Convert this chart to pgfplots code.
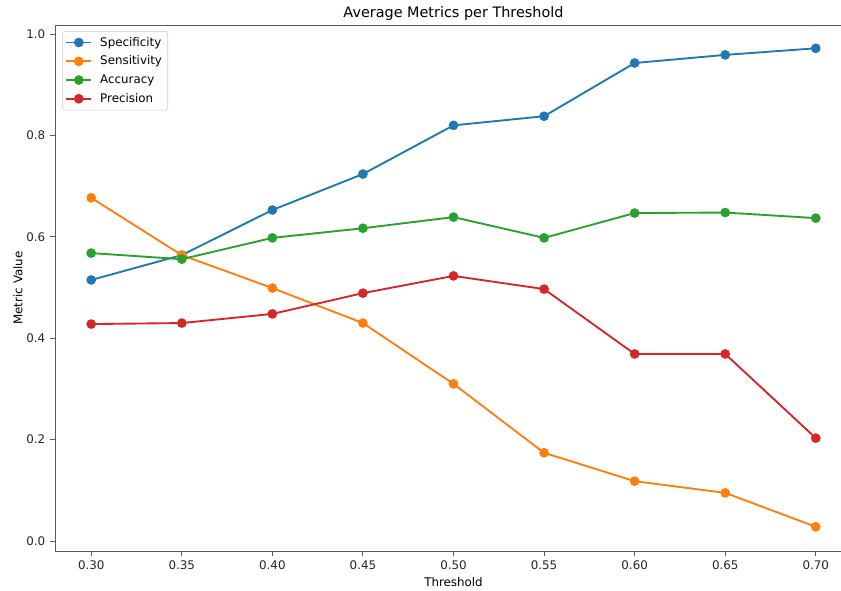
\documentclass[border=0pt]{standalone}
\usepackage{pgfplots}
\pgfplotsset{compat=1.18}
\usepackage{fontspec}
\setmainfont{DejaVu Sans}
\definecolor{cblue}{HTML}{1F77B4}
\definecolor{corange}{HTML}{FF7F0E}
\definecolor{cgreen}{HTML}{2CA02C}
\definecolor{cred}{HTML}{D62728}
\begin{document}
\begin{tikzpicture}
\begin{axis}[
  scale only axis, width=597.75pt, height=394.5pt,
  xmin=0.28, xmax=0.72, ymin=-0.0197, ymax=1.018,
  axis line style={black!65, line width=0.7pt},
  xtick={0.30,0.35,0.40,0.45,0.50,0.55,0.60,0.65,0.70},
  ytick={0,0.2,0.4,0.6,0.8,1.0},
  tick align=outside, tick pos=left,
  major tick length=3.75pt,
  tick style={black!65, line width=0.7pt},
  /pgf/number format/assume math mode=true,
  xticklabel style={/pgf/number format/.cd, fixed, fixed zerofill, precision=2},
  yticklabel style={/pgf/number format/.cd, fixed, fixed zerofill, precision=1},
  ticklabel style={font=\fontsize{8.9}{10}\selectfont, text=black!85},
  scaled ticks=false,
  title={Average Metrics per Threshold},
  title style={font=\fontsize{10.8}{12}\selectfont, yshift=-6.5pt},
  xlabel={Threshold}, ylabel={Metric Value},
  label style={font=\fontsize{8.9}{10}\selectfont},
  xlabel style={yshift=1pt},
  ylabel style={yshift=-4pt},
  legend style={at={(0.0088,0.9886)}, anchor=north west, draw=black!20, rounded corners=2pt, fill=white,
    font=\fontsize{8.9}{10}\selectfont, row sep=1.9pt, inner sep=2.3pt},
  legend cell align=left,
  legend image code/.code={%
    \draw[#1] (0cm,0cm) -- (0.66cm,0cm);
    \draw[#1, only marks] plot coordinates {(0.33cm,0cm)};
    \path (0.8cm,0cm);},
  every axis plot/.append style={line width=1.4pt, mark=*, mark size=2.9pt},
]
\addplot[cblue, mark options={fill=cblue}] coordinates {
(0.30,0.515)(0.35,0.564)(0.40,0.653)(0.45,0.724)(0.50,0.820)(0.55,0.838)(0.60,0.943)(0.65,0.959)(0.70,0.972)};
\addlegendentry{Specificity}
\addplot[corange, mark options={fill=corange}] coordinates {
(0.30,0.677)(0.35,0.564)(0.40,0.499)(0.45,0.430)(0.50,0.310)(0.55,0.174)(0.60,0.118)(0.65,0.095)(0.70,0.028)};
\addlegendentry{Sensitivity}
\addplot[cgreen, mark options={fill=cgreen}] coordinates {
(0.30,0.568)(0.35,0.556)(0.40,0.598)(0.45,0.617)(0.50,0.639)(0.55,0.598)(0.60,0.647)(0.65,0.648)(0.70,0.637)};
\addlegendentry{Accuracy}
\addplot[cred, mark options={fill=cred}] coordinates {
(0.30,0.428)(0.35,0.430)(0.40,0.448)(0.45,0.489)(0.50,0.523)(0.55,0.497)(0.60,0.369)(0.65,0.369)(0.70,0.203)};
\addlegendentry{Precision}
\end{axis}
\pgfresetboundingbox
\path[use as bounding box] (-41.25pt,-30pt) rectangle (589.5pt,413.25pt);
\end{tikzpicture}
\end{document}
